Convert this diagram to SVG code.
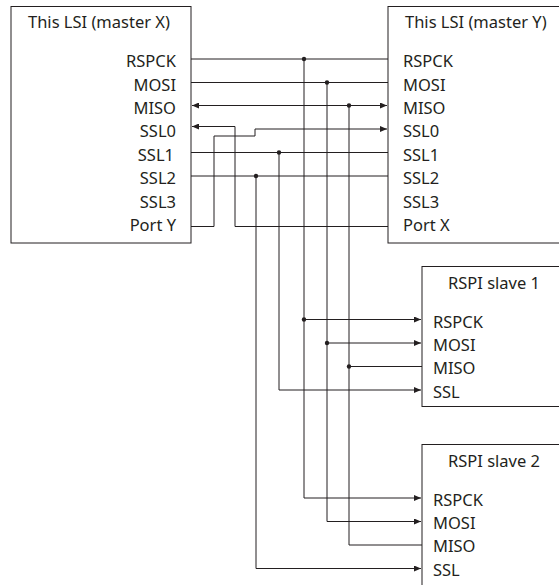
<svg xmlns="http://www.w3.org/2000/svg" width="559" height="585" viewBox="0 0 559 585">
<style>
text{font-family:"Noto Sans","Open Sans","Liberation Sans",sans-serif;font-size:16.500px;fill:#231f20}
.e{text-anchor:end}
.b{fill:#fff;stroke:#231f20;stroke-width:1}
.w{fill:none;stroke:#231f20;stroke-width:1}
.d{fill:#231f20}
</style>
<defs>
<marker id="a" viewBox="0 0 7 6" refX="7" refY="3" markerWidth="7" markerHeight="6" markerUnits="userSpaceOnUse" orient="auto-start-reverse"><path d="M0 0L7 3L0 6Z" fill="#231f20"/></marker>
</defs>
<g id="master-x"><rect class="b" x="11" y="6.500" width="180" height="236.500"/>
<text x="28" y="28">This LSI (master X)</text>
<text class="e" x="176" y="66.500">RSPCK</text><text class="e" x="176" y="90.500">MOSI</text><text class="e" x="176" y="114">MISO</text><text class="e" x="176" y="137">SSL0</text><text class="e" x="174" y="160.500">SSL1</text><text class="e" x="176" y="183.500">SSL2</text><text class="e" x="176" y="207.500">SSL3</text><text class="e" x="176" y="230.500">Port Y</text></g>
<g id="master-y"><rect class="b" x="388" y="6.500" width="172" height="236.500"/>
<text x="405" y="28">This LSI (master Y)</text>
<text x="403" y="66.500">RSPCK</text><text x="403" y="90.500">MOSI</text><text x="403" y="114">MISO</text><text x="403" y="137">SSL0</text><text x="403" y="160.500">SSL1</text><text x="403" y="183.500">SSL2</text><text x="403" y="207.500">SSL3</text><text x="403" y="230.500">Port X</text></g>
<g id="slave-1"><rect class="b" x="422" y="266.500" width="138" height="140"/>
<text x="448" y="289">RSPI slave 1</text>
<text x="433" y="327.500">RSPCK</text><text x="433" y="350.500">MOSI</text><text x="433" y="374">MISO</text><text x="433" y="397.500">SSL</text></g>
<g id="slave-2"><rect class="b" x="422" y="444.500" width="138" height="142"/>
<text x="448" y="467">RSPI slave 2</text>
<text x="433" y="505.500">RSPCK</text><text x="433" y="528.500">MOSI</text><text x="433" y="552">MISO</text><text x="433" y="575.500">SSL</text></g>
<g id="connectors">
<path class="w" d="M191 59H388M191 82.500H388M191 152.500H388M191 176H388"/>
<path class="w" marker-start="url(#a)" marker-end="url(#a)" d="M192 105.500H387"/>
<path class="w" marker-end="url(#a)" d="M388 226.500H235V126.500H192"/>
<path class="w" marker-end="url(#a)" d="M191 226.500H214V136H255V129H387"/>
<path class="w" marker-end="url(#a)" d="M304 59V498H421"/>
<path class="w" marker-end="url(#a)" d="M327 82.500V521.500H421"/>
<path class="w" d="M349 105.500V545H422"/>
<path class="w" marker-end="url(#a)" d="M279 152.500V390H421"/>
<path class="w" marker-end="url(#a)" d="M256 176V568.500H421"/>
<path class="w" marker-end="url(#a)" d="M304 319.500H421"/>
<path class="w" marker-end="url(#a)" d="M327 343H421"/>
<path class="w" d="M349 366.500H422"/>
<circle class="d" cx="304" cy="59" r="2.200"/><circle class="d" cx="327" cy="82.500" r="2.200"/><circle class="d" cx="349" cy="105.500" r="2.200"/><circle class="d" cx="279" cy="152.500" r="2.200"/><circle class="d" cx="256" cy="176" r="2.200"/><circle class="d" cx="304" cy="319.500" r="2.200"/><circle class="d" cx="327" cy="343" r="2.200"/><circle class="d" cx="349" cy="366.500" r="2.200"/>
</g>
</svg>
